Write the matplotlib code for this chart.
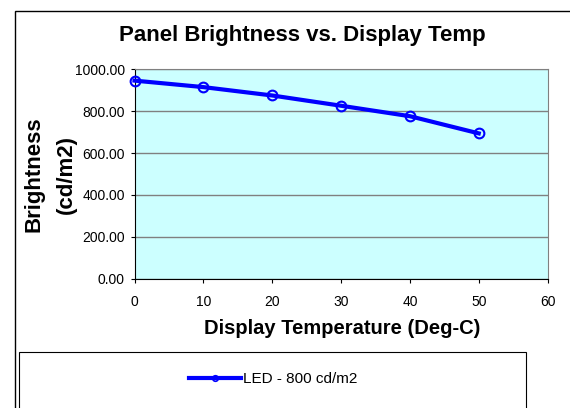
import matplotlib
matplotlib.use('Agg')
import matplotlib.pyplot as plt
from matplotlib.patches import Rectangle
from matplotlib.lines import Line2D

# values
temps = [0, 10, 20, 30, 40, 50]
brightness = [946, 915, 875, 826, 776, 694]
series_name = 'LED - 800 cd/m2'
y_ticks = [0, 200, 400, 600, 800, 1000]
x_ticks = [0, 10, 20, 30, 40, 50, 60]

plt.rcParams['font.family'] = ['Liberation Sans', 'DejaVu Sans']

W, H = 570, 408
fig = plt.figure(figsize=(W / 100, H / 100), dpi=100)

def px(x0, y0, x1, y1):
    # pixel box -> figure fraction [left, bottom, width, height]
    return [x0 / W, 1 - y1 / H, (x1 - x0) / W, (y1 - y0) / H]

# outer chart frame (runs off the right and bottom edges)
fig.patches.append(Rectangle((14.5 / W, -0.1), 1.2, 1 - 11 / H + 0.1,
                             transform=fig.transFigure, fill=False,
                             edgecolor='black', linewidth=1))
# legend frame
fig.patches.append(Rectangle((19 / W, -0.1), (526 - 19) / W, 1 - 352 / H + 0.1,
                             transform=fig.transFigure, fill=False,
                             edgecolor='black', linewidth=0.8))

ax = fig.add_axes(px(134.5, 69.3, 547.6, 278.7))
ax.set_facecolor('#CCFFFF')
ax.plot(temps, brightness, color='#0000FF', linewidth=3, marker='o',
        markersize=7, markerfacecolor='none', markeredgewidth=1.5,
        markeredgecolor='#0000FF', clip_on=False, zorder=3)

ax.set_xlim(0, 60)
ax.set_ylim(0, 1000)
ax.set_xticks(x_ticks)
ax.set_yticks(y_ticks)
ax.set_yticklabels(['%.2f' % v for v in y_ticks])
ax.yaxis.grid(True, color='#808080', linewidth=1)
ax.set_axisbelow(True)
for side in ['top', 'right']:
    ax.spines[side].set_color('#808080')
ax.spines['left'].set_color('black')
ax.spines['bottom'].set_color('black')
ax.tick_params(axis='both', labelsize=10, length=3, direction='out', color='black')
ax.tick_params(axis='x', pad=9)
ax.tick_params(axis='y', pad=4)

fig.text(302 / W, 1 - 36 / H, 'Panel Brightness vs. Display Temp', ha='center',
         va='center', fontsize=16, fontweight='bold')
fig.text(342 / W, 1 - 328 / H, 'Display Temperature (Deg-C)', ha='center',
         va='center', fontsize=14.5, fontweight='bold')
fig.text(34.5 / W, 1 - 174 / H, 'Brightness', ha='center', va='center',
         fontsize=16, fontweight='bold', rotation=90)
fig.text(66.5 / W, 1 - 174 / H, '(cd/m2)', ha='center', va='center',
         fontsize=16, fontweight='bold', rotation=90)

handle = Line2D([], [], color='#0000FF', linewidth=3, marker='o', markersize=4,
                markerfacecolor='none', markeredgewidth=1.2)
fig.legend([handle], [series_name], loc='center', bbox_to_anchor=(273 / W, 1 - 379 / H),
           frameon=False, fontsize=11, handlelength=3.4, handletextpad=0.1)

fig.savefig('out.png', dpi=100)
